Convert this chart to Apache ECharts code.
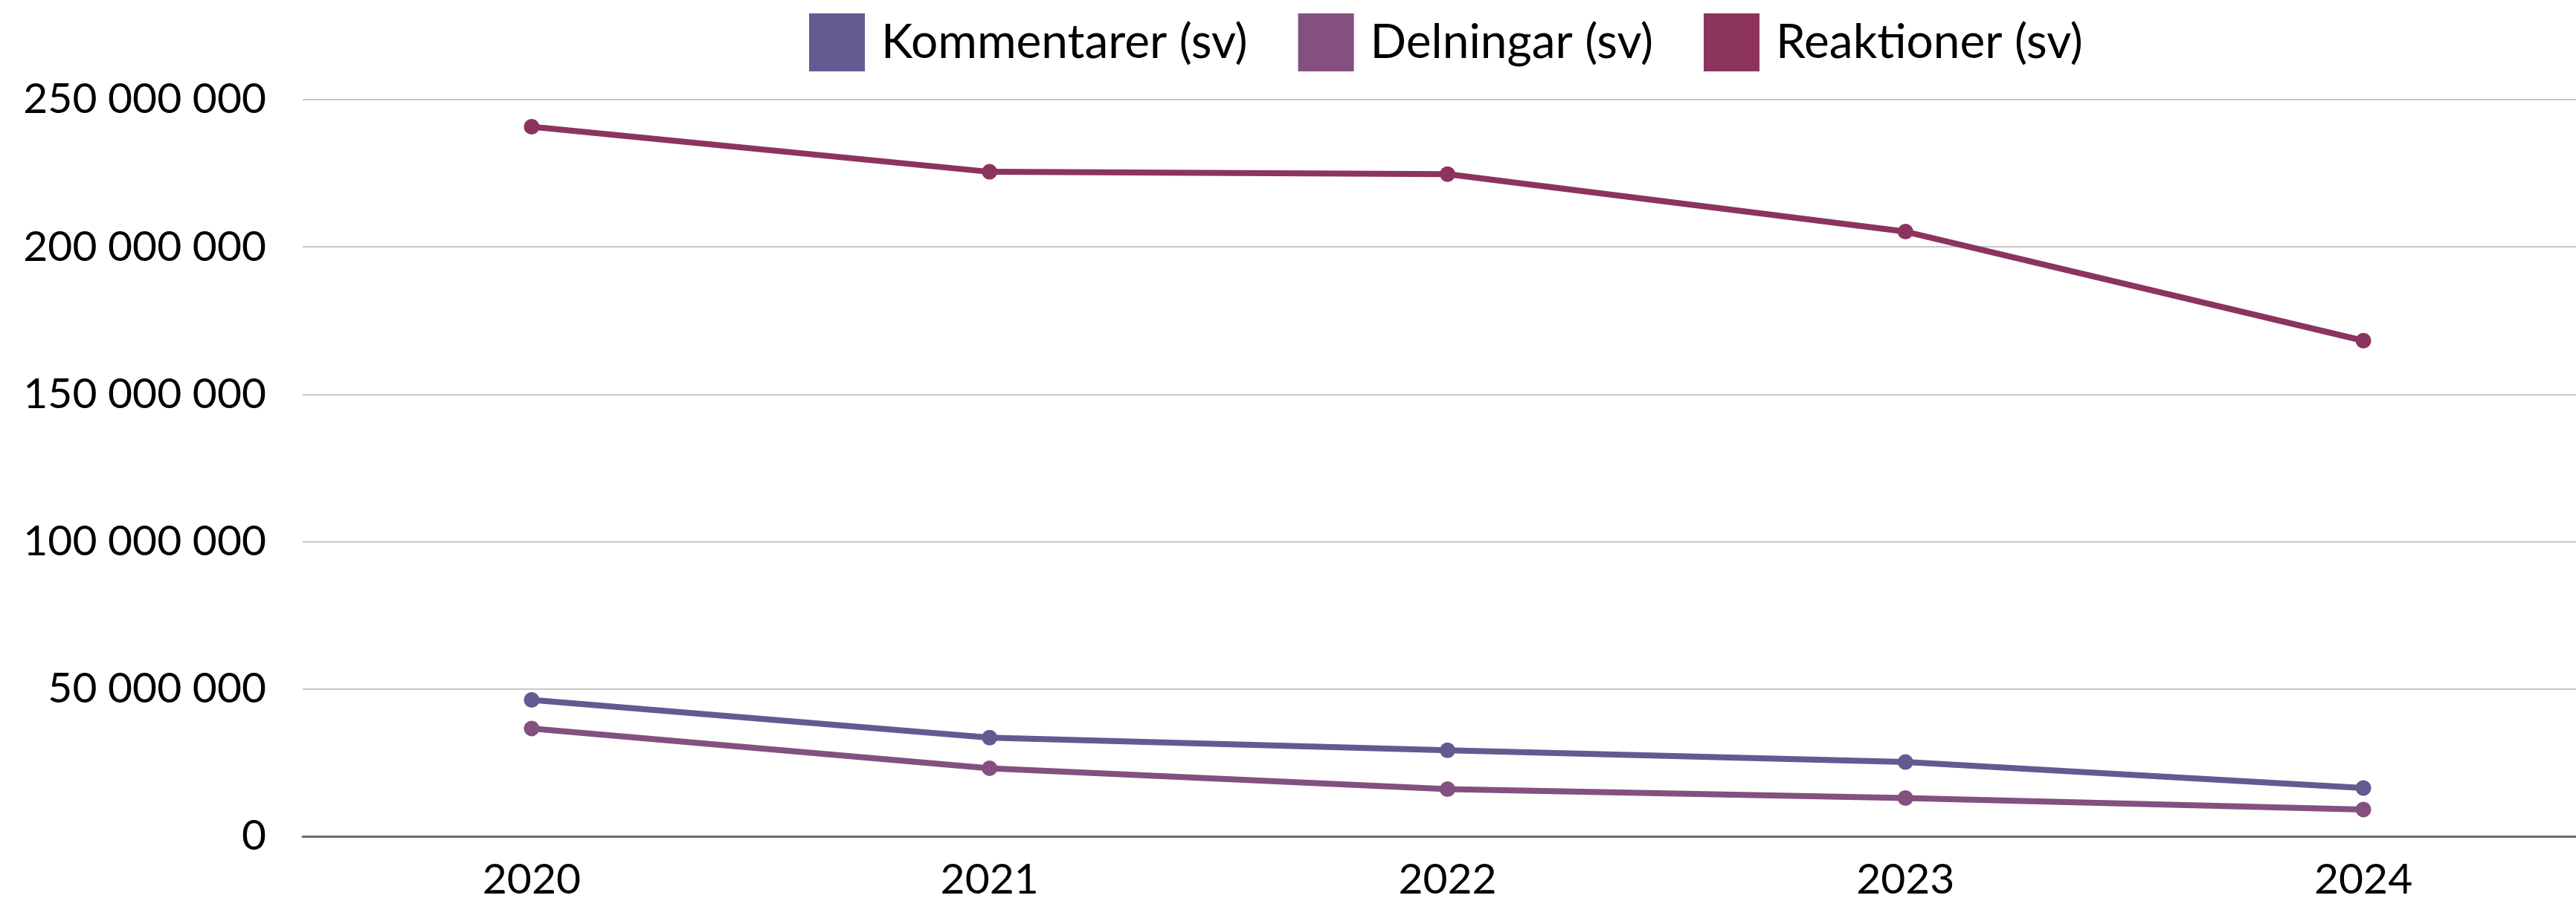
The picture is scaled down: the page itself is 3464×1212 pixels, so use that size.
<!DOCTYPE html>
<html>
<head>
<meta charset="utf-8">
<title>Kommentarer, delningar och reaktioner</title>
<script src="https://cdn.jsdelivr.net/npm/echarts@6/dist/echarts.min.js"></script>
<style>
  html, body { margin: 0; padding: 0; background: #ffffff; overflow: hidden; width: 3464px; height: 1212px; }
  /* canvas is a little wider than the page so the plot runs past the right edge */
  #chart { width: 3486px; height: 1212px; }
</style>
</head>
<body>
<div id="chart"></div>
<script>
// Years on the category axis
const years = ['2020', '2021', '2022', '2023', '2024'];

// Yearly totals per interaction type
const kommentarer = [46300000, 33500000, 29200000, 25200000, 16400000];
const delningar = [36600000, 23100000, 16000000, 13000000, 9100000];
const reaktioner = [240800000, 225500000, 224700000, 205200000, 168200000];

const seriesNames = ['Kommentarer (sv)', 'Delningar (sv)', 'Reaktioner (sv)'];
const seriesColors = ['#625b92', '#84507f', '#8c345e'];

const FONT = 'Lato, "Open Sans", sans-serif';

// Swedish style grouping: 250 000 000
function groupThousands(v) {
  return String(Math.round(v)).replace(/\B(?=(\d{3})+(?!\d))/g, ' ');
}

function lineSeries(name, data, color) {
  return {
    name: name,
    type: 'line',
    data: data,
    symbol: 'circle',
    symbolSize: 21,
    showSymbol: true,
    lineStyle: { width: 8, color: color },
    itemStyle: { color: color },
    emphasis: { disabled: true }
  };
}

const chart = echarts.init(document.getElementById('chart'), null, { renderer: 'canvas' });

chart.setOption({
  animation: false,
  backgroundColor: '#ffffff',
  // legend sits centred over the plot area rather than the page
  legend: {
    top: 18,
    left: 1088,
    padding: 0,
    itemWidth: 75,
    itemHeight: 78,
    itemGap: 68,
    icon: 'rect',
    data: seriesNames,
    textStyle: {
      fontFamily: FONT,
      fontSize: 64,
      color: '#000000',
      padding: [0, 0, 0, 17]
    }
  },
  grid: {
    left: 407,
    right: 0,
    top: 134,
    bottom: 86,
    containLabel: false
  },
  xAxis: {
    type: 'category',
    data: years,
    boundaryGap: true,
    axisLine: { show: true, lineStyle: { color: '#6b6b6b', width: 3 } },
    axisTick: { show: false },
    axisLabel: {
      fontFamily: FONT,
      fontSize: 57,
      color: '#000000',
      margin: 30
    },
    splitLine: { show: false }
  },
  yAxis: {
    type: 'value',
    min: 0,
    max: 250000000,
    interval: 50000000,
    axisLine: { show: false },
    axisTick: { show: false },
    axisLabel: {
      fontFamily: FONT,
      fontSize: 57,
      color: '#000000',
      margin: 49,
      formatter: groupThousands
    },
    splitLine: { show: true, lineStyle: { color: '#c8c8c8', width: 2 } }
  },
  series: [
    lineSeries(seriesNames[0], kommentarer, seriesColors[0]),
    lineSeries(seriesNames[1], delningar, seriesColors[1]),
    lineSeries(seriesNames[2], reaktioner, seriesColors[2])
  ]
});
</script>
</body>
</html>
